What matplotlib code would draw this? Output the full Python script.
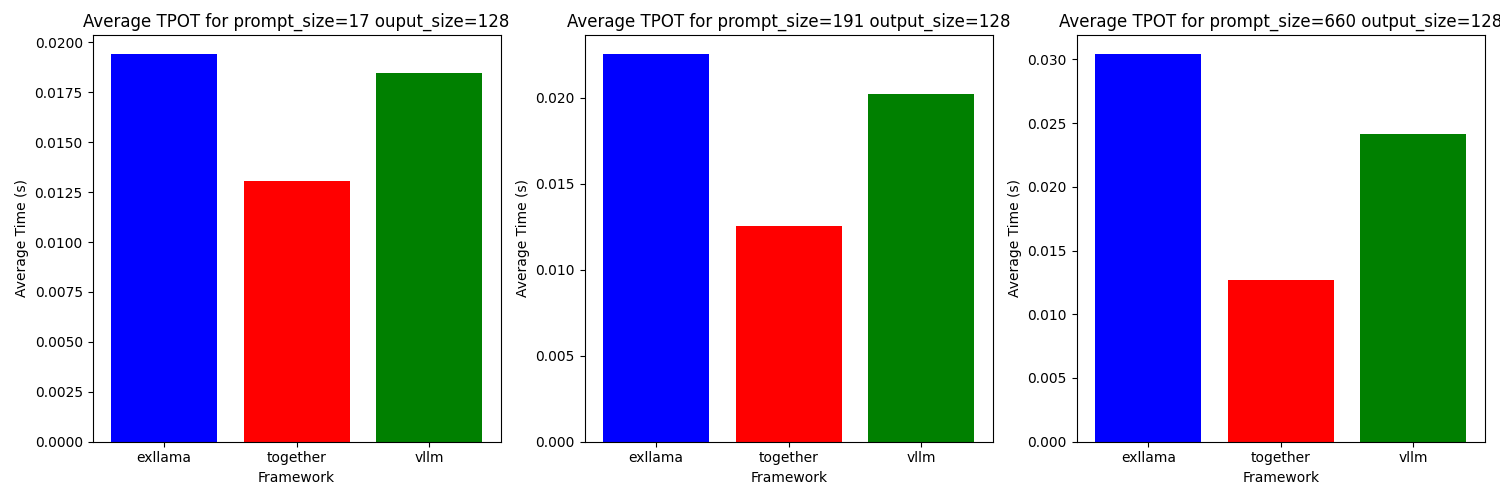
import matplotlib
matplotlib.use('Agg')
from matplotlib import pyplot as plt

frameworks = ['exllama', 'together', 'vllm']
colors = ['blue', 'red', 'green']

titles = [
    'Average TPOT for prompt_size=17 ouput_size=128',
    'Average TPOT for prompt_size=191 output_size=128',
    'Average TPOT for prompt_size=660 output_size=128',
]
tpot_17 = [0.01940, 0.01307, 0.01849]
tpot_191 = [0.02251, 0.01254, 0.02023]
tpot_660 = [0.03039, 0.01268, 0.02417]

fig, axes = plt.subplots(1, 3, figsize=(15, 5))
for ax, title, vals in zip(axes, titles, [tpot_17, tpot_191, tpot_660]):
    ax.bar(frameworks, vals, color=colors)
    ax.set_title(title)
    ax.set_xlabel('Framework')
    ax.set_ylabel('Average Time (s)')

plt.tight_layout()
fig.subplots_adjust(top=0.93)
plt.savefig('out.png', dpi=100)
